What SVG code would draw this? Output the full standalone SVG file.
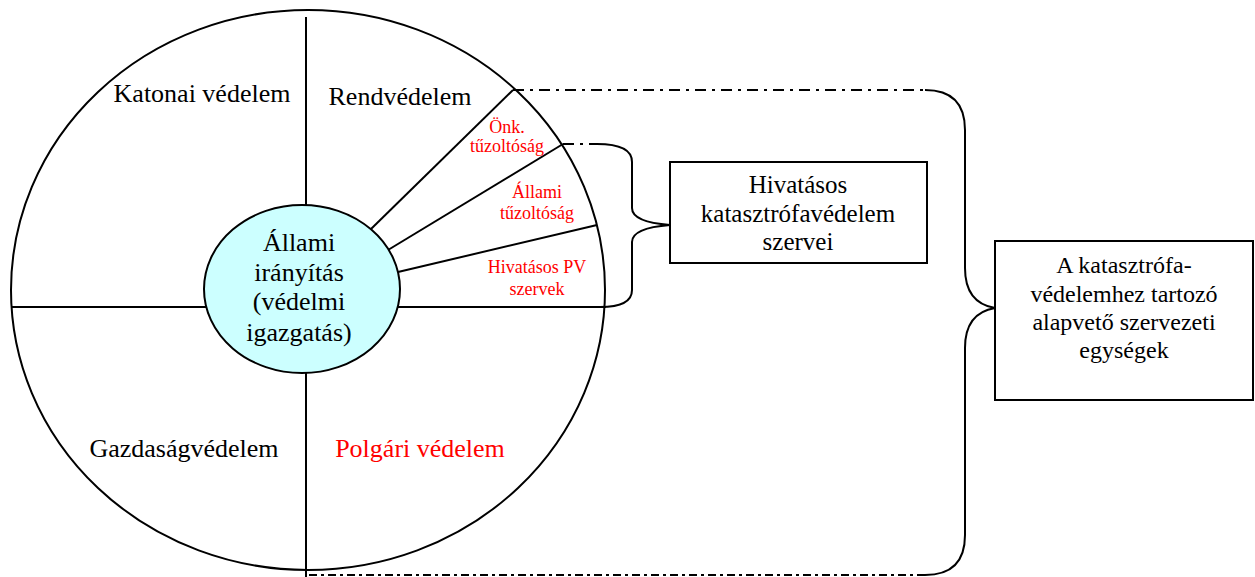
<svg xmlns="http://www.w3.org/2000/svg" width="1255" height="577" viewBox="0 0 1255 577">
<style>
  .ln{fill:none;stroke:#000;stroke-width:2}
  .dd{fill:none;stroke:#000;stroke-width:2;stroke-dasharray:11 6 3 6}
  .dd2{fill:none;stroke:#000;stroke-width:2;stroke-dasharray:8 4 3 4}
  .t{font-family:"Liberation Serif","Times New Roman",serif;fill:#000;text-anchor:middle}
  .big{font-size:26px}
  .mid{font-size:25px}
  .box2{font-size:24px}
  .sm{font-size:18px;fill:#ff0000}
  .red{fill:#ff0000}
</style>
<rect width="1255" height="577" fill="#fff"/>
<g id="outer-circle">
  <ellipse cx="308" cy="290" rx="297" ry="280" class="ln"/>
</g>
<g id="dividers">
  <line x1="306" y1="17" x2="306" y2="577" class="ln"/>
  <line x1="11" y1="307" x2="606" y2="307" class="ln"/>
  <line x1="371" y1="229" x2="513" y2="90" class="ln"/>
  <line x1="388" y1="250" x2="563" y2="144" class="ln"/>
  <line x1="398" y1="272" x2="597" y2="225" class="ln"/>
</g>
<g id="center">
  <ellipse cx="302" cy="289" rx="98" ry="84" fill="#ccffff" stroke="#000" stroke-width="2"/>
  <text class="t big" x="299" y="251">Állami</text>
  <text class="t big" x="299" y="281">irányítás</text>
  <text class="t big" x="299" y="310">(védelmi</text>
  <text class="t big" x="299" y="341">igazgatás)</text>
</g>
<g id="sectors">
  <text class="t big" x="202" y="102">Katonai védelem</text>
  <text class="t big" x="400" y="105">Rendvédelem</text>
  <text class="t big" x="184" y="457">Gazdaságvédelem</text>
  <text class="t big red" x="420" y="457">Polgári védelem</text>
  <text class="t sm" x="507" y="133">Önk.</text>
  <text class="t sm" x="507" y="152">tűzoltóság</text>
  <text class="t sm" x="537" y="198">Állami</text>
  <text class="t sm" x="537" y="219">tűzoltóság</text>
  <text class="t sm" x="537" y="273">Hivatásos PV</text>
  <text class="t sm" x="537" y="295">szervek</text>
</g>
<g id="connectors">
  <path class="dd" d="M513,90 L925,90"/>
  <path class="ln" d="M925,90 Q965,90 965,130 L965,268 Q965,303 995,308 Q965,313 965,348 L965,535 Q965,575 925,575"/>
  <path class="dd2" d="M925,575 L306,575"/>
  <path class="dd" d="M563,144 L597,144"/>
  <path class="ln" d="M597,144 Q632,144 632,162 L632,208 Q632,222 670,225 Q632,228 632,242 L632,290 Q632,307 600,307"/>
</g>
<g id="box-hivatasos">
  <rect x="670" y="162" width="257" height="101" class="ln"/>
  <text class="t mid" x="798" y="193">Hivatásos</text>
  <text class="t mid" x="798" y="222">katasztrófavédelem</text>
  <text class="t mid" x="798" y="250">szervei</text>
</g>
<g id="box-alapveto">
  <rect x="995" y="241" width="258" height="159" class="ln"/>
  <text class="t box2" x="1124" y="273">A katasztrófa-</text>
  <text class="t box2" x="1124" y="302">védelemhez tartozó</text>
  <text class="t box2" x="1124" y="330">alapvető szervezeti</text>
  <text class="t box2" x="1124" y="358">egységek</text>
</g>
</svg>
